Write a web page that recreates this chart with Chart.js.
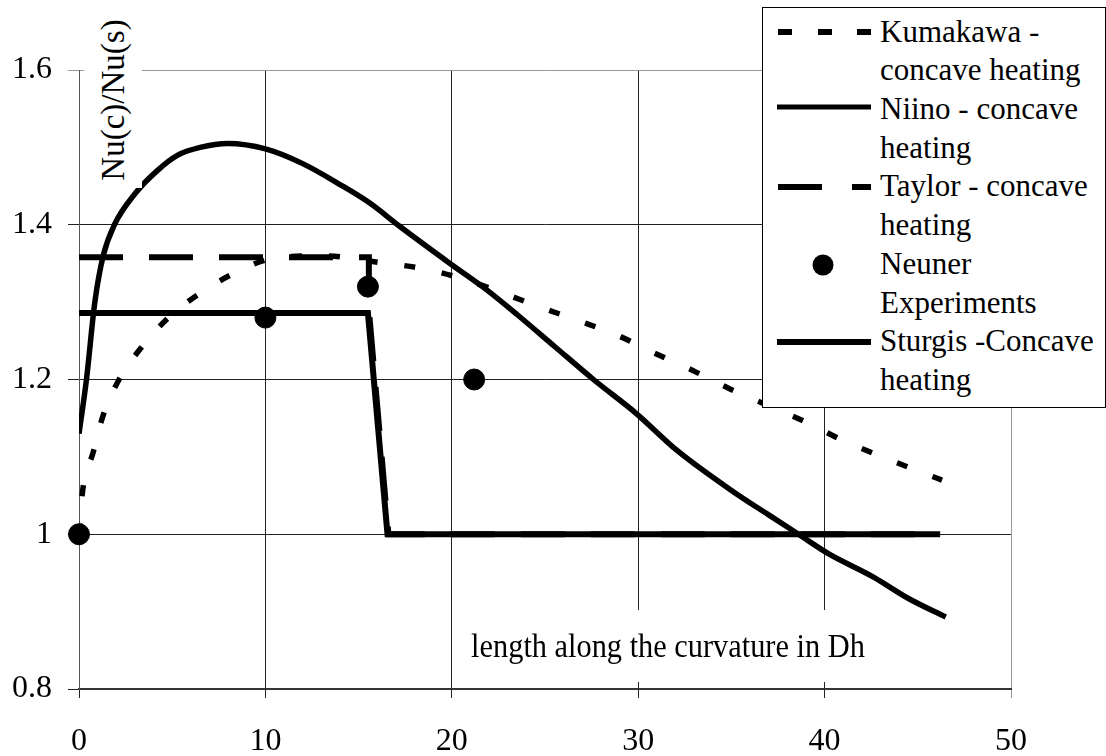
<!DOCTYPE html>
<html>
<head>
<meta charset="utf-8">
<script src="https://cdn.jsdelivr.net/npm/chart.js@4.4.0/dist/chart.umd.min.js"></script>
<style>
    body { margin: 0; background: #fff; }
    #wrap { position: relative; width: 1106px; height: 756px; }
    #chart { position: absolute; left: 0; top: 0; }
    .serif { font-family: 'Liberation Serif', 'Times New Roman', Times, serif; color: #000; }
    .ytitle { position: absolute; left: 84px; top: 12px; width: 58px; height: 176px; background: #fff; }
    .ytitle span { position: absolute; left: 50%; top: 50%; transform: translate(-50%, -50%) rotate(-90deg);
        white-space: nowrap; font-size: 33px; }
    .xtitle { position: absolute; left: 454px; top: 610px; width: 407px; height: 72px; background: #fff;
        font-size: 33px; text-align: center; line-height: 72px; white-space: nowrap; }
    .xtitle span { display: inline-block; transform: scaleX(0.92); }
    .legend { position: absolute; left: 762px; top: 7px; width: 344px; height: 401px; background: #fff;
        border: 1px solid #000; box-sizing: border-box; }
    .legend svg { position: absolute; left: 0; top: 0; }
    .legend .txt { position: absolute; left: 117px; top: 4.6px; font-size: 31px; line-height: 38.7px; white-space: nowrap; }
</style>
</head>
<body>
<div id="wrap">
    <canvas id="chart" width="1106" height="756"></canvas>
    <div class="ytitle serif"><span>Nu(c)/Nu(s)</span></div>
    <div class="xtitle serif"><span>length along the curvature in Dh</span></div>
    <div class="legend">
        <svg width="116" height="399">
            <rect x="15" y="21" width="14" height="6" fill="#000"/>
            <rect x="55" y="21" width="14" height="6" fill="#000"/>
            <rect x="94" y="21" width="14" height="6" fill="#000"/>
            <line x1="14" y1="99" x2="108" y2="99" stroke="#000" stroke-width="5"/>
            <line x1="15" y1="179" x2="59" y2="179" stroke="#000" stroke-width="6"/>
            <line x1="89" y1="179" x2="108" y2="179" stroke="#000" stroke-width="6"/>
            <circle cx="60" cy="257" r="10.5" fill="#000"/>
            <line x1="14" y1="334" x2="108" y2="334" stroke="#000" stroke-width="6"/>
        </svg>
        <div class="txt serif">Kumakawa -<br>concave heating<br>Niino - concave<br>heating<br>Taylor - concave<br>heating<br>Neuner<br>Experiments<br>Sturgis -Concave<br>heating</div>
    </div>
</div>
<script>
// values (x in Dh, y = Nu(c)/Nu(s))
const kumakawaX = [0, 0.2, 0.75, 1.3, 2.15, 3.3, 4.8, 6.4, 8.3, 10.3, 13, 16.2, 18.5, 20.6, 22.7, 24.8, 26.8, 28.9, 30.8, 32.9, 34.9, 37, 39, 41, 43.1, 45.2, 46.3];
const kumakawaY = [1.0, 1.057, 1.105, 1.154, 1.2, 1.24, 1.28, 1.31, 1.337, 1.356, 1.36, 1.351, 1.343, 1.33, 1.312, 1.293, 1.276, 1.257, 1.235, 1.212, 1.188, 1.166, 1.145, 1.121, 1.10, 1.08, 1.07];

const niinoX = [0, 0.4, 0.85, 1.3, 1.9, 3, 4.2, 5.3, 6.5, 8, 10, 12, 14, 15.6, 17.2, 19.9, 21.7, 23.5, 25.5, 27.6, 29.9, 32.1, 35.1, 37, 38.6, 40.2, 42.6, 44.5, 46.5];
const niinoY = [1.13, 1.2, 1.3, 1.36, 1.40, 1.44, 1.47, 1.49, 1.5, 1.505, 1.498, 1.479, 1.452, 1.428, 1.398, 1.35, 1.319, 1.284, 1.243, 1.2, 1.156, 1.108, 1.055, 1.025, 1.0, 0.975, 0.945, 0.917, 0.893];

const taylorX = [0, 15.55, 15.55, 16.6, 46.2];
const taylorY = [1.358, 1.358, 1.29, 1.0, 1.0];

const neunerX = [0, 10, 15.5, 21.2];
const neunerY = [1.0, 1.28, 1.32, 1.2];

const sturgisX = [0, 15.5, 16.55, 46.2];
const sturgisY = [1.286, 1.286, 1.0, 1.0];

const xTicks = [0, 10, 20, 30, 40, 50];
const yTicks = [0.8, 1.0, 1.2, 1.4, 1.6];

function pairs(xs, ys) {
    return xs.map((x, i) => ({ x: x, y: ys[i] }));
}

const serif = "'Liberation Serif', 'Times New Roman', Times, serif";
const ctx = document.getElementById('chart').getContext('2d');
const myChart = new Chart(ctx, {
    type: 'line',
    data: {
        datasets: [
            {
                label: 'Kumakawa - concave heating',
                data: pairs(kumakawaX, kumakawaY),
                borderColor: '#000',
                borderWidth: 5.5,
                borderDash: [11, 27],
                borderCapStyle: 'butt',
                cubicInterpolationMode: 'monotone',
                pointRadius: 0
            },
            {
                label: 'Niino - concave heating',
                data: pairs(niinoX, niinoY),
                borderColor: '#000',
                borderWidth: 5.5,
                cubicInterpolationMode: 'monotone',
                pointRadius: 0
            },
            {
                label: 'Taylor - concave heating',
                data: pairs(taylorX, taylorY),
                borderColor: '#000',
                borderWidth: 6,
                borderDash: [44, 26],
                borderCapStyle: 'butt',
                tension: 0,
                pointRadius: 0
            },
            {
                label: 'Neuner Experiments',
                data: pairs(neunerX, neunerY),
                showLine: false,
                pointRadius: 10.5,
                pointStyle: 'circle',
                backgroundColor: '#000',
                borderColor: '#000',
                clip: false
            },
            {
                label: 'Sturgis -Concave heating',
                data: pairs(sturgisX, sturgisY),
                borderColor: '#000',
                borderWidth: 6,
                tension: 0,
                pointRadius: 0
            }
        ]
    },
    options: {
        responsive: false,
        animation: false,
        layout: {
            padding: { left: 0, top: 70, right: 95, bottom: 0 }
        },
        plugins: {
            legend: { display: false },
            tooltip: { enabled: false }
        },
        scales: {
            x: {
                type: 'linear',
                min: 0,
                max: 50,
                afterBuildTicks: (scale) => { scale.ticks = xTicks.map(v => ({ value: v })); },
                afterFit: (scale) => { scale.height = 67; },
                ticks: {
                    color: '#000',
                    padding: 24,
                    maxRotation: 0,
                    font: { family: serif, size: 32 }
                },
                grid: {
                    color: (c) => (c.tick && c.tick.value === 50 ? '#999' : '#222'),
                    lineWidth: 1,
                    tickLength: 9
                },
                border: { color: '#333', width: 2 }
            },
            y: {
                min: 0.8,
                max: 1.6,
                afterBuildTicks: (scale) => { scale.ticks = yTicks.map(v => ({ value: v })); },
                afterFit: (scale) => { scale.width = 79; },
                ticks: {
                    color: '#000',
                    padding: 16,
                    font: { family: serif, size: 32 },
                    callback: (v) => (Math.abs(v - 1) < 1e-9 ? '1' : v.toFixed(1))
                },
                grid: {
                    color: (c) => (c.tick && Math.abs(c.tick.value - 1.6) < 1e-9 ? '#999' : '#222'),
                    lineWidth: 1,
                    tickLength: 11
                },
                border: { color: '#555', width: 1 }
            }
        }
    }
});
</script>
</body>
</html>
